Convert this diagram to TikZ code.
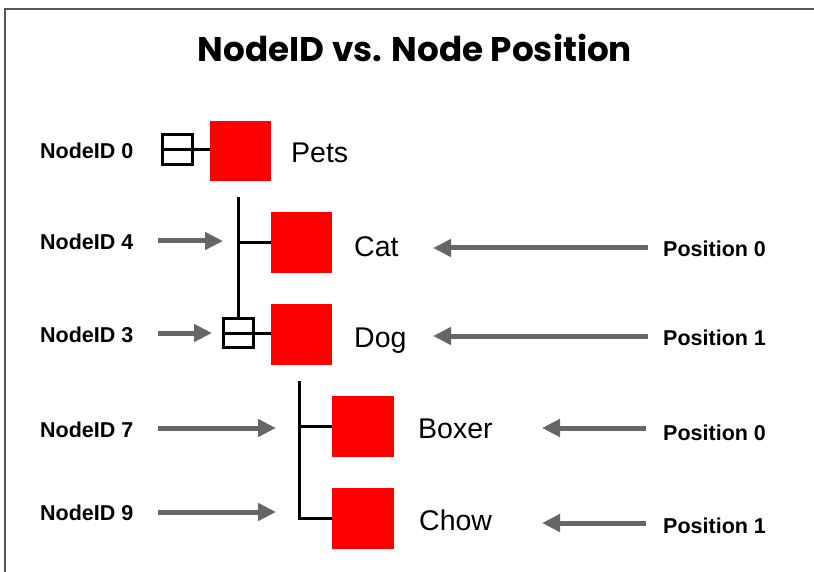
\documentclass[tikz,border=0pt]{standalone}
\usepackage{fontspec}
\setmainfont{Liberation Sans}
\newfontfamily\titlefont{Poppins}
\usetikzlibrary{arrows.meta,calc}
\definecolor{arrowgray}{HTML}{666666}
\definecolor{framegray}{HTML}{555555}
\begin{document}
\begin{tikzpicture}[x=1pt,y=-1pt,
  redbox/.style={fill=red,draw=none,minimum width=61pt,minimum height=61pt,inner sep=0pt},
  expbox/.style={draw=black,line width=3pt,minimum width=30pt,minimum height=30pt,inner sep=0pt},
  treeline/.style={draw=black,line width=3pt},
  idlabel/.style={anchor=base west,inner sep=0pt,font=\fontsize{21.5}{24}\selectfont\bfseries},
  poslabel/.style={anchor=base west,inner sep=0pt,font=\fontsize{21.5}{24}\selectfont\bfseries},
  namelabel/.style={anchor=base west,inner sep=0pt,font=\fontsize{28.5}{32}\selectfont},
  grayarrow/.style={draw=arrowgray,line width=5pt,-{Triangle[length=18pt,width=17pt]}}
]
\useasboundingbox (0,0) rectangle (814,572);
\fill[white] (0,0) rectangle (814,572);
% frame
\draw[framegray,line width=2.5pt] (5,572) -- (5,9) -- (814,9);

% title
\node[anchor=base,inner sep=0pt] (title) at (415,62)
  {\resizebox{434pt}{!}{\titlefont\bfseries NodeID vs. Node Position}};

% red nodes
\node[redbox,minimum height=60pt] (pets) at (240.5,151) {};
\node[redbox] (cat) at (301.5,242.5) {};
\node[redbox] (dog) at (301.5,334.5) {};
\node[redbox,minimum width=62pt] (boxer) at (363,426.5) {};
\node[redbox,minimum width=62pt] (chow) at (363,518.5) {};

% expand boxes
\node[expbox] (petsexp) at (177.5,150) {};
\node[expbox,minimum height=29pt] (dogexp) at (238.5,333) {};
\draw[treeline] (petsexp.west) -- (petsexp.east);
\draw[treeline] (petsexp.east) -- (petsexp.east -| pets.west);
\draw[treeline] (dogexp.west) -- (dogexp.east);
\draw[treeline] (dogexp.east) -- (dogexp.east -| dog.west);

% tree lines
\coordinate (t1) at (238.5,197);
\draw[treeline] (t1) -- (dogexp.north);
\draw[treeline] (t1 |- cat.west) -- (cat.west);
\coordinate (t2) at (299,381);
\draw[treeline] (t2) |- (chow.west);
\draw[treeline] (t2 |- boxer.west) -- (boxer.west);

% names
\node[namelabel] (petst) at (291,163) {Pets};
\node[namelabel] (catt) at (354,257) {Cat};
\node[namelabel] (dogt) at (354,347) {Dog};
\node[namelabel] (boxert) at (418,438) {Boxer};
\node[namelabel] (chowt) at (419,530) {Chow};

% NodeID labels
\node[idlabel] (id0) at (40,159) {NodeID 0};
\node[idlabel] (id4) at (40,250) {NodeID 4};
\node[idlabel] (id3) at (40,342) {NodeID 3};
\node[idlabel] (id7) at (40,437) {NodeID 7};
\node[idlabel] (id9) at (40,520) {NodeID 9};

% Position labels
\node[poslabel] (p0a) at (663,256) {Position 0};
\node[poslabel] (p1a) at (663,345) {Position 1};
\node[poslabel] (p0b) at (663,440) {Position 0};
\node[poslabel] (p1b) at (663,533) {Position 1};

% NodeID arrows
\coordinate (a4s) at (158,241); \coordinate (a4e) at (223,241);
\coordinate (a3s) at (158,333); \coordinate (a3e) at (212,333);
\coordinate (a7s) at (158,428); \coordinate (a7e) at (276,428);
\coordinate (a9s) at (158,512); \coordinate (a9e) at (276,512);
\draw[grayarrow] (a4s) -- (a4e);
\draw[grayarrow] (a3s) -- (a3e);
\draw[grayarrow] (a7s) -- (a7e);
\draw[grayarrow] (a9s) -- (a9e);

% Position arrows
\coordinate (b0s) at (648,248); \coordinate (b0e) at (433,248);
\coordinate (b1s) at (648,336); \coordinate (b1e) at (433,336);
\coordinate (b2s) at (646,428); \coordinate (b2e) at (542,428);
\coordinate (b3s) at (646,523); \coordinate (b3e) at (542,523);
\draw[grayarrow] (b0s) -- (b0e);
\draw[grayarrow] (b1s) -- (b1e);
\draw[grayarrow] (b2s) -- (b2e);
\draw[grayarrow] (b3s) -- (b3e);
\end{tikzpicture}
\end{document}
